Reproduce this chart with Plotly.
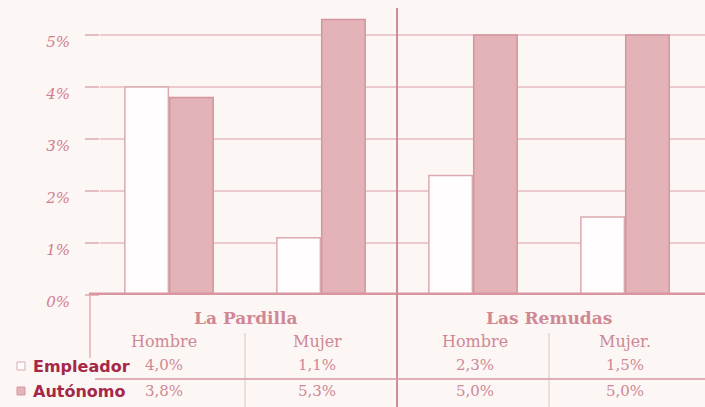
import plotly.graph_objects as go

categories = ["La Pardilla · Hombre", "La Pardilla · Mujer", "Las Remudas · Hombre", "Las Remudas · Mujer"]
sites = ["La Pardilla", "Las Remudas"]
column_labels = ["Hombre", "Mujer", "Hombre", "Mujer."]
empleador = [4.0, 1.1, 2.3, 1.5]
autonomo = [3.8, 5.3, 5.0, 5.0]
series_names = ["Empleador", "Autónomo"]
y_ticks = [0, 1, 2, 3, 4, 5]
y_tick_labels = ["0%", "1%", "2%", "3%", "4%", "5%"]

BG = "#fcf6f4"
PINK = "#e3b3b7"
PINK_EDGE = "#d595a0"
WHITE = "#fffdfd"
TXT = "#cf8894"
DARK = "#a52848"
GRID = "#ebc9cc"

xi = list(range(len(categories)))

fig = go.Figure()
fig.add_trace(go.Bar(x=xi, y=empleador, name=series_names[0],
                     marker=dict(color=WHITE, line=dict(color="#dcaab0", width=1.5))))
fig.add_trace(go.Bar(x=xi, y=autonomo, name=series_names[1],
                     marker=dict(color=PINK, line=dict(color=PINK_EDGE, width=1.5))))

fig.update_layout(
    width=705, height=407,
    margin=dict(l=100, r=0, t=8, b=112),
    paper_bgcolor=BG, plot_bgcolor=BG,
    barmode="group", bargap=0.41, bargroupgap=0.03,
    showlegend=False,
    xaxis=dict(range=[-0.454, 3.526], showticklabels=False, showgrid=False,
               zeroline=False, showline=False, ticks=""),
    yaxis=dict(range=[0, 5.519], tickvals=y_ticks, ticktext=y_tick_labels,
               showgrid=True, gridcolor=GRID, gridwidth=1.5, zeroline=False,
               ticks="outside", ticklen=14, tickcolor="#e6bcc0", tickwidth=1.5,
               ticklabelstandoff=12, ticklabelshift=7,
               tickfont=dict(family="DejaVu Serif", size=15, color="#d27d8e", style="italic"),
               showline=False),
)

def py(px):
    return (295 - px) / 287

def pxp(px):
    return (px - 100) / 605

shapes = []
# floor
shapes.append(dict(type="line", xref="paper", yref="y", x0=pxp(89), x1=1.0, y0=0, y1=0,
                   line=dict(color="#d996a0", width=5), layer="above"))
# main vertical separator between sites
shapes.append(dict(type="line", xref="x", yref="paper", x0=1.5, x1=1.5, y0=py(407), y1=py(8),
                   line=dict(color="#d08a96", width=2)))
# table left border
shapes.append(dict(type="line", xref="paper", yref="paper", x0=pxp(90), x1=pxp(90), y0=py(358), y1=py(295),
                   line=dict(color="#e3b1b7", width=1.5)))
# light column separators
for xv in [0.5, 2.5]:
    shapes.append(dict(type="line", xref="x", yref="paper", x0=xv, x1=xv, y0=py(407), y1=py(333),
                       line=dict(color="#ecd3d5", width=1.5)))
# row separator
shapes.append(dict(type="line", xref="paper", yref="paper", x0=pxp(95), x1=1.0, y0=py(379), y1=py(379),
                   line=dict(color="#d99aa3", width=1.5)))
# legend swatches
shapes.append(dict(type="rect", xref="paper", yref="paper", x0=pxp(17), x1=pxp(25), y0=py(370), y1=py(362),
                   fillcolor=WHITE, line=dict(color="#dcaab0", width=1)))
shapes.append(dict(type="rect", xref="paper", yref="paper", x0=pxp(17), x1=pxp(25), y0=py(395), y1=py(387),
                   fillcolor=PINK, line=dict(color=PINK_EDGE, width=1)))
fig.update_layout(shapes=shapes)

def fmt(v):
    return f"{v:.1f}".replace(".", ",") + "%"

ann = []
serif = "DejaVu Serif"
for i, s in enumerate(sites):
    ann.append(dict(x=2 * i + 0.5, y=py(318), xref="x", yref="paper", text=f"<b>{s}</b>",
                    yanchor="middle", showarrow=False, font=dict(family=serif, size=17, color=TXT)))
col_shift = [-5, -4, 2, 0]
for i, lab in enumerate(column_labels):
    ann.append(dict(x=i, y=py(341), xref="x", yref="paper", text=lab, xshift=col_shift[i],
                    yanchor="middle", showarrow=False, font=dict(family=serif, size=16, color=TXT)))
    ann.append(dict(x=i, y=py(365), xref="x", yref="paper", text=fmt(empleador[i]), xshift=col_shift[i],
                    yanchor="middle", showarrow=False, font=dict(family=serif, size=15, color=TXT)))
    ann.append(dict(x=i, y=py(391), xref="x", yref="paper", text=fmt(autonomo[i]), xshift=col_shift[i],
                    yanchor="middle", showarrow=False, font=dict(family=serif, size=15, color=TXT)))
for name, yy in zip(series_names, [366, 391]):
    ann.append(dict(x=pxp(31), y=py(yy), xref="paper", yref="paper", text=f"<b>{name}</b>",
                    xanchor="left", yanchor="middle", showarrow=False,
                    font=dict(family="DejaVu Sans", size=16, color=DARK)))
fig.update_layout(annotations=ann)

fig.write_html("out.html", config={"displayModeBar": False},
               post_script="document.body.style.margin='0';document.body.style.background='#fcf6f4';")
